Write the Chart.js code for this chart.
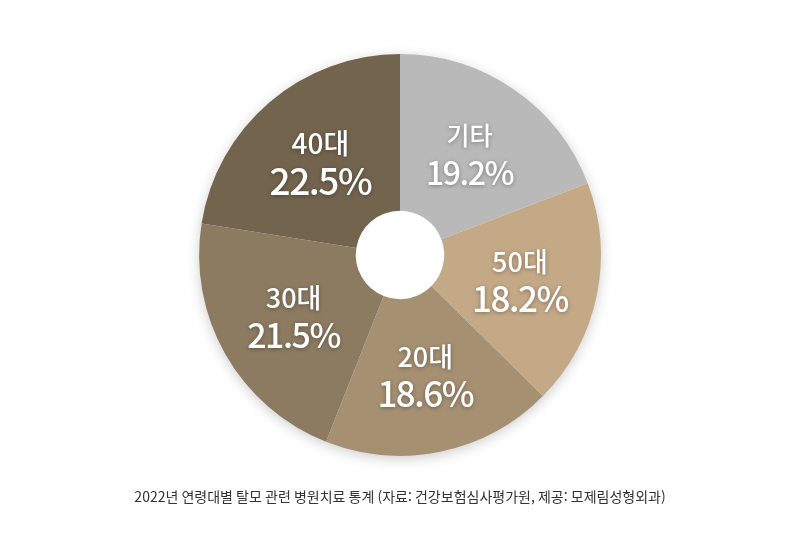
<!DOCTYPE html>
<html lang="ko">
<head>
<meta charset="utf-8">
<script src="https://cdn.jsdelivr.net/npm/chart.js@4.4.1/dist/chart.umd.min.js"></script>
<style>
  html, body { margin: 0; padding: 0; background: #fff; }
  #wrap { width: 800px; height: 550px; position: relative; }
</style>
</head>
<body>
<div id="wrap"><canvas id="ageChart" width="800" height="550"></canvas></div>
<script>
// 연령대별 비중 (%)
const labels = ['기타', '50대', '20대', '30대', '40대'];
const shares = [19.2, 18.2, 18.6, 21.5, 22.5];
const caption = '2022년 연령대별 탈모 관련 병원치료 통계 (자료: 건강보험심사평가원, 제공: 모제림성형외과)';

const sliceColors = ['#b9b9b9', '#c4a987', '#a69072', '#8c7b61', '#73644e'];
const nameSizes = [25, 27, 27, 27, 28];
const pctSizes = [32, 35, 35, 34, 37];
const fontFamily = '"Noto Sans CJK KR", "Noto Sans", sans-serif';

// 원 전체 그림자 (조각마다 주면 서로 겹치므로 바탕 원에 한 번만)
const pieShadow = {
    id: 'pieShadow',
    beforeDatasetsDraw(chart) {
        const arc = chart.getDatasetMeta(0).data[0];
        if (!arc) return;
        const ctx = chart.ctx;
        ctx.save();
        ctx.shadowColor = 'rgba(0,0,0,0.22)';
        ctx.shadowBlur = 14;
        ctx.shadowOffsetY = 3;
        ctx.fillStyle = '#fff';
        ctx.beginPath();
        ctx.arc(arc.x, arc.y, arc.outerRadius - 1, 0, Math.PI * 2);
        ctx.fill();
        ctx.restore();
    }
};

const sliceLabels = {
    id: 'sliceLabels',
    afterDatasetsDraw(chart) {
        const ctx = chart.ctx;
        const meta = chart.getDatasetMeta(0);
        ctx.save();
        ctx.fillStyle = '#fff';
        ctx.textAlign = 'center';
        ctx.textBaseline = 'middle';
        ctx.shadowColor = 'rgba(0,0,0,0.35)';
        ctx.shadowBlur = 4;
        ctx.shadowOffsetY = 1;
        meta.data.forEach(function(arc, i) {
            const pos = arc.tooltipPosition();
            ctx.letterSpacing = '0px';
            ctx.font = '500 ' + nameSizes[i] + 'px ' + fontFamily;
            ctx.fillText(labels[i], pos.x, pos.y - 18);
            ctx.letterSpacing = '-1.5px';
            ctx.font = '500 ' + pctSizes[i] + 'px ' + fontFamily;
            ctx.fillText(shares[i].toFixed(1) + '%', pos.x, pos.y + 19);
        });
        ctx.restore();
    }
};

new Chart(document.getElementById('ageChart'), {
    type: 'doughnut',
    data: {
        labels: labels,
        datasets: [{
            data: shares,
            backgroundColor: sliceColors,
            borderWidth: 0,
            hoverOffset: 0
        }]
    },
    options: {
        responsive: false,
        maintainAspectRatio: false,
        animation: false,
        cutout: '22%',
        rotation: 0,
        layout: { padding: { top: 54, bottom: 40, left: 0, right: 0 } },
        plugins: {
            legend: { display: false },
            tooltip: { enabled: false },
            title: {
                display: true,
                position: 'bottom',
                text: caption,
                color: '#333',
                font: { family: fontFamily, size: 14, weight: 'normal', lineHeight: 1.3 },
                padding: { top: 32, bottom: 4 }
            }
        }
    },
    plugins: [pieShadow, sliceLabels]
});
</script>
</body>
</html>
